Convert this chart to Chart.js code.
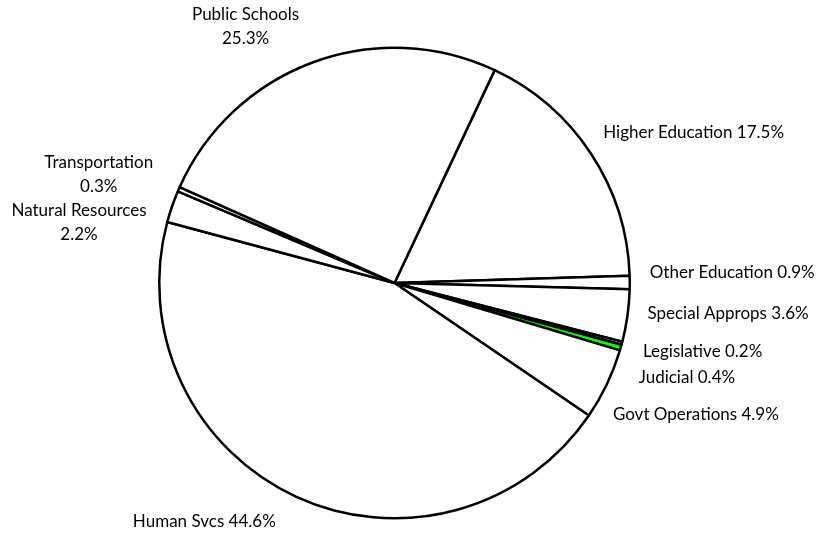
<!DOCTYPE html>
<html>
<head>
<meta charset="utf-8">
<script src="https://cdn.jsdelivr.net/npm/chart.js@4/dist/chart.umd.min.js"></script>
<style>
  html, body { margin: 0; padding: 0; background: #fff; }
</style>
</head>
<body>
<canvas id="budgetPie" width="833" height="536"></canvas>
<script>
// Budget share by area, clockwise from the 12 o'clock side
const categories = [
    "Higher Education", "Other Education", "Special Approps", "Legislative",
    "Judicial", "Govt Operations", "Human Svcs", "Natural Resources",
    "Transportation", "Public Schools"
];
const shares = [17.5, 0.9, 3.6, 0.2, 0.4, 4.9, 44.6, 2.2, 0.3, 25.3];
const sliceColors = [
    "#ffffff", "#ffffff", "#ffffff", "#ffffff", "#00ff00",
    "#ffffff", "#ffffff", "#ffffff", "#ffffff", "#ffffff"
];

// label placement: nudge from the slice's outer edge, alignment, line split
const labelLayout = [
    { dx: 12, dy: -21, align: "left", split: false },
    { dx: 20, dy: -10, align: "left", split: false },
    { dx: 20, dy: -2, align: "left", split: false },
    { dx: 21, dy: 8, align: "left", split: false },
    { dx: 18, dy: 30, align: "left", split: false },
    { dx: 6, dy: 30, align: "left", split: false },
    { dx: -92, dy: 25, align: "center", split: false },
    { dx: -93, dy: 16, align: "center", split: true },
    { dx: -80, dy: -15, align: "center", split: true },
    { dx: -67, dy: -36, align: "center", split: true }
];

const sliceLabels = {
    id: "sliceLabels",
    afterDatasetsDraw(chart) {
        const ctx = chart.ctx;
        const arcs = chart.getDatasetMeta(0).data;
        ctx.save();
        ctx.font = "17px Lato";
        ctx.fillStyle = "#000";
        ctx.textBaseline = "middle";
        arcs.forEach((arc, i) => {
            const { x, y, startAngle, endAngle, outerRadius } = arc.getProps(
                ["x", "y", "startAngle", "endAngle", "outerRadius"], true);
            const mid = (startAngle + endAngle) / 2;
            const ex = x + Math.cos(mid) * outerRadius;
            const ey = y + Math.sin(mid) * outerRadius;
            const lay = labelLayout[i];
            const pct = shares[i].toFixed(1) + "%";
            const lx = ex + lay.dx;
            const ly = ey + lay.dy;
            ctx.textAlign = lay.align;
            if (lay.split) {
                ctx.fillText(categories[i], lx, ly - 12);
                ctx.fillText(pct, lx, ly + 12);
            } else {
                ctx.fillText(categories[i] + " " + pct, lx, ly);
            }
        });
        ctx.restore();
    }
};

new Chart(document.getElementById("budgetPie"), {
    type: "pie",
    data: {
        labels: categories,
        datasets: [{
            data: shares,
            backgroundColor: sliceColors,
            borderColor: "#000",
            borderWidth: 2.5,
            borderAlign: "center"
        }]
    },
    options: {
        responsive: false,
        animation: false,
        rotation: 25.2,
        layout: {
            padding: { left: 158, right: 202, top: 46, bottom: 16 }
        },
        plugins: {
            legend: { display: false },
            tooltip: { enabled: false }
        }
    },
    plugins: [sliceLabels]
});
</script>
</body>
</html>
